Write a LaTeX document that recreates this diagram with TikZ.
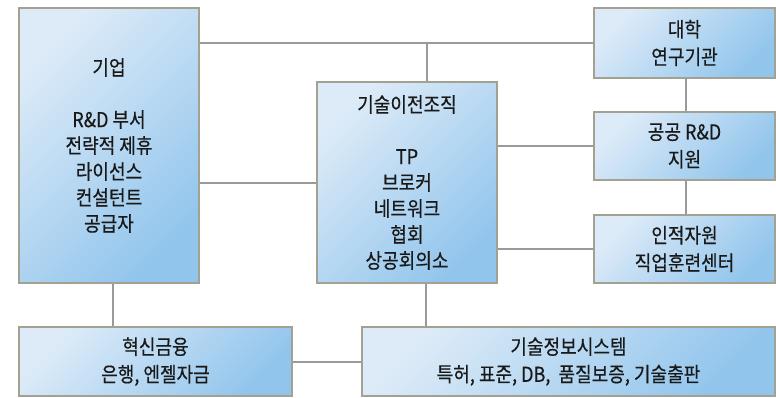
\documentclass[tikz,border=0pt]{standalone}
\usepackage{fontspec}
\setmainfont[FakeStretch=0.88,FakeBold=0.45]{Noto Sans CJK KR}
\definecolor{boxlight}{HTML}{DDEBF8}
\definecolor{boxdark}{HTML}{92C5EC}
\definecolor{boxborder}{HTML}{A3A192}
\definecolor{linkgray}{HTML}{9A9A9A}
\begin{document}
\begin{tikzpicture}[x=1pt,y=-1pt,
  box/.style={draw=boxborder, line width=1.2pt, top color=boxlight, bottom color=boxdark, shading angle=45,
    align=center, inner sep=0pt, font=\fontsize{20.5}{26}\selectfont, text=black!90},
  small/.style={font=\fontsize{20.5}{27.5}\selectfont},
  link/.style={draw=linkgray, line width=2pt}]
\useasboundingbox (0,0) rectangle (776,397);
\node[box, minimum width=180, minimum height=275] (A) at (109,145.5) {기업\\[26pt]R\&D 부서\\전략적 제휴\\라이선스\\컨설턴트\\공급자};
\node[box, minimum width=180, minimum height=201] (B) at (407,182.5) {기술이전조직\\[26pt]TP\\브로커\\네트워크\\협회\\상공회의소};
\node[box, small, minimum width=181, minimum height=70] (C) at (684.5,43) {대학\\연구기관};
\node[box, small, minimum width=181, minimum height=68] (D) at (684.5,146) {공공 R\&D\\지원};
\node[box, small, minimum width=181, minimum height=68] (E) at (684.5,249) {인적자원\\직업훈련센터};
\node[box, small, minimum width=273, minimum height=69] (F) at (155.5,361.5) {혁신금융\\은행, 엔젤자금};
\node[box, small, minimum width=413, minimum height=69] (G) at (568.5,361.5) {기술정보시스템\\특허, 표준, DB,\ \ 품질보증, 기술출판};
\coordinate (j1) at (427,43);
\draw[link] (A.east |- C.west) -- (C.west);
\draw[link] (j1) -- (j1 |- B.north);
\draw[link] (B.west) -- (B.west -| A.east);
\draw[link] (B.east |- D.west) -- (D.west);
\draw[link] (B.east |- E.west) -- (E.west);
\draw[link] ([xshift=1.5]C.south) -- ([xshift=1.5]D.north);
\draw[link] ([xshift=1.5]D.south) -- ([xshift=1.5]E.north);
\draw[link] ([xshift=4]A.south) -- ([xshift=4]A.south |- F.north);
\draw[link] ([xshift=19]B.south) -- ([xshift=19]B.south |- G.north);
\draw[link] (F.east) -- (G.west);
\end{tikzpicture}
\end{document}
